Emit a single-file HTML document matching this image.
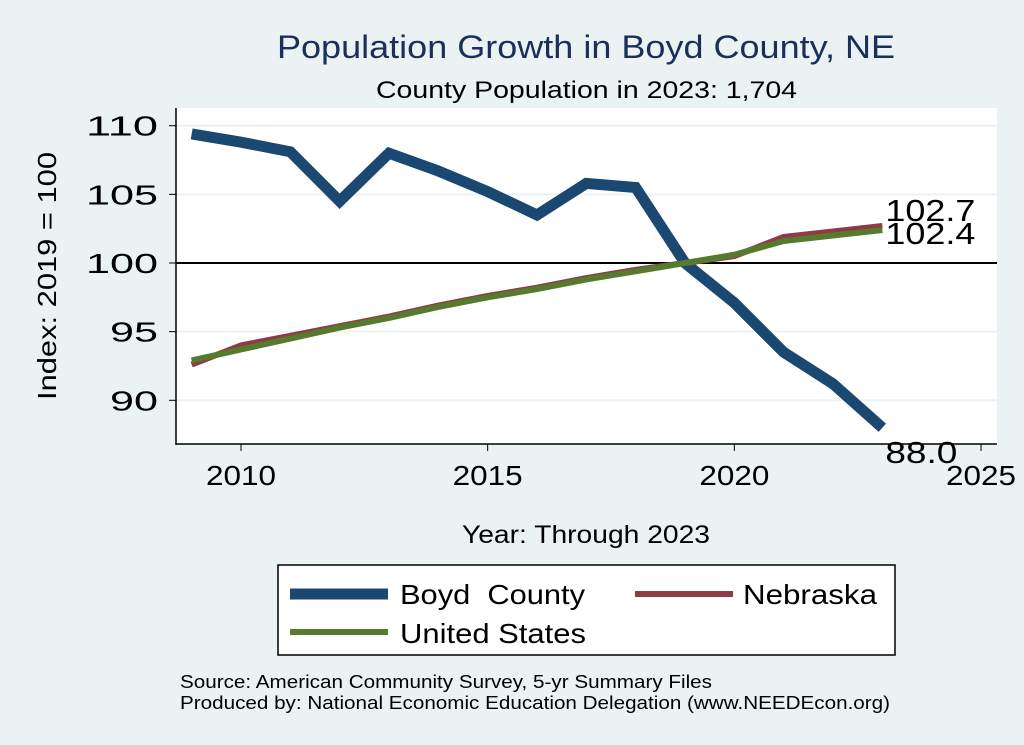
<!DOCTYPE html>
<html><head><meta charset="utf-8"><style>
body{margin:0;background:#eaf2f3;}
svg{display:block;font-family:"Liberation Sans",Arial,sans-serif;}
</style></head><body>
<svg width="1024" height="745" viewBox="0 0 1024 745">
<rect x="0" y="0" width="1024" height="745" fill="#eaf2f3"/>
<text x="277" y="58" font-size="32" fill="#1a2f5a" textLength="618" lengthAdjust="spacingAndGlyphs">Population Growth in Boyd County, NE</text>
<text x="376" y="98" font-size="24" fill="#000" textLength="421" lengthAdjust="spacingAndGlyphs">County Population in 2023: 1,704</text>
<rect x="176" y="108" width="821" height="336" fill="#fff"/>
<g id="grid"></g>
<g id="axes"></g>
<g id="series"></g>
<text transform="translate(56,400) rotate(-90)" font-size="26" textLength="248" lengthAdjust="spacingAndGlyphs">Index: 2019 = 100</text>
<text x="462" y="543" font-size="25" textLength="248" lengthAdjust="spacingAndGlyphs">Year: Through 2023</text>
<g>
<rect x="278" y="565" width="617" height="90" fill="#fff" stroke="#000" stroke-width="1.5"/>
<line x1="290" y1="594" x2="388" y2="594" stroke="#1b4870" stroke-width="11"/>
<text x="400" y="604" font-size="28" textLength="185" lengthAdjust="spacingAndGlyphs" xml:space="preserve">Boyd  County</text>
<line x1="635" y1="594" x2="733" y2="594" stroke="#8f3a44" stroke-width="6"/>
<text x="743" y="604" font-size="28" textLength="134" lengthAdjust="spacingAndGlyphs">Nebraska</text>
<line x1="290" y1="632" x2="388" y2="632" stroke="#567a2e" stroke-width="6"/>
<text x="400" y="643" font-size="28" textLength="186" lengthAdjust="spacingAndGlyphs">United States</text>
</g>
<text x="180" y="688" font-size="18" textLength="532" lengthAdjust="spacingAndGlyphs">Source: American Community Survey, 5-yr Summary Files</text>
<text x="180" y="709" font-size="18" textLength="710" lengthAdjust="spacingAndGlyphs">Produced by: National Economic Education Delegation (www.NEEDEcon.org)</text>
</svg>
<script>
const years=[2009,2010,2011,2012,2013,2014,2015,2016,2017,2018,2019,2020,2021,2022,2023];
const boyd=[109.4,108.8,108.1,104.5,108.0,106.7,105.2,103.5,105.8,105.5,100.0,97.1,93.5,91.2,88.0];
const nebraska=[92.6,94.0,94.7,95.4,96.1,96.9,97.6,98.2,98.9,99.5,100.0,100.5,101.9,102.3,102.7];
const us=[92.9,93.7,94.5,95.3,96.0,96.8,97.5,98.1,98.8,99.4,100.0,100.6,101.6,102.0,102.4];
const xTicks=[2010,2015,2020,2025];
const yTicks=[90,95,100,105,110];
const NS='http://www.w3.org/2000/svg';
const X=v=>241+(v-2010)*(981-241)/15;
const Y=v=>263-(v-100)*13.73;
function mk(t,a,p){const e=document.createElementNS(NS,t);for(const k in a)e.setAttribute(k,a[k]);document.getElementById(p).appendChild(e);return e;}
yTicks.forEach(t=>{
 if(t!==100){const g=mk('line',{x1:176,x2:997,y1:Y(t),y2:Y(t),stroke:'#eaf2f3','stroke-width':2},'grid');
 
 }
 const tk=mk('line',{x1:169,x2:176,y1:Y(t),y2:Y(t),stroke:'#000'},'axes');
 
 
 const s=String(t);
 const tx=mk('text',{x:158-s.length*24,y:Y(t)+10,'font-size':28,textLength:s.length*24,lengthAdjust:'spacingAndGlyphs'},'axes');tx.textContent=s;
 
 
});
const ref=mk('line',{x1:176,x2:997,y1:Y(100),y2:Y(100),stroke:'#000','stroke-width':2},'grid');


const ya=mk('line',{x1:176,x2:176,y1:108,y2:445,stroke:'#000','stroke-width':1.5},'axes');


const xa=mk('line',{x1:176,x2:997,y1:444,y2:444,stroke:'#000','stroke-width':1.5},'axes');


xTicks.forEach(t=>{
 const tk=mk('line',{x1:X(t),x2:X(t),y1:444,y2:451,stroke:'#000'},'axes');
 
 
 const tx=mk('text',{x:X(t)-35,y:485,'font-size':28,textLength:70,lengthAdjust:'spacingAndGlyphs'},'axes');tx.textContent=t;
 
 
});
function line(vals,color,w,name){
 const p=mk('polyline',{points:vals.map((v,i)=>X(years[i])+','+Y(v)).join(' '),fill:'none',stroke:color,'stroke-width':w,'stroke-linejoin':'miter'},'series');
 
 
}
line(boyd,'#1b4870',11,'line-boyd-county');
line(nebraska,'#8f3a44',6,'line-nebraska');
line(us,'#567a2e',6,'line-united-states');
const L=years.length-1;
[[boyd[L],Y(boyd[L])+35,'label-boyd-last',72],[nebraska[L],Y(nebraska[L])-5,'label-nebraska-last',90],[us[L],Y(us[L])+14,'label-us-last',90]].forEach(a=>{
 const t=mk('text',{x:X(years[L])+3,y:a[1],'font-size':31,textLength:a[3],lengthAdjust:'spacingAndGlyphs'},'series');t.textContent=a[0].toFixed(1);
 
 
});
</script>
</body></html>
